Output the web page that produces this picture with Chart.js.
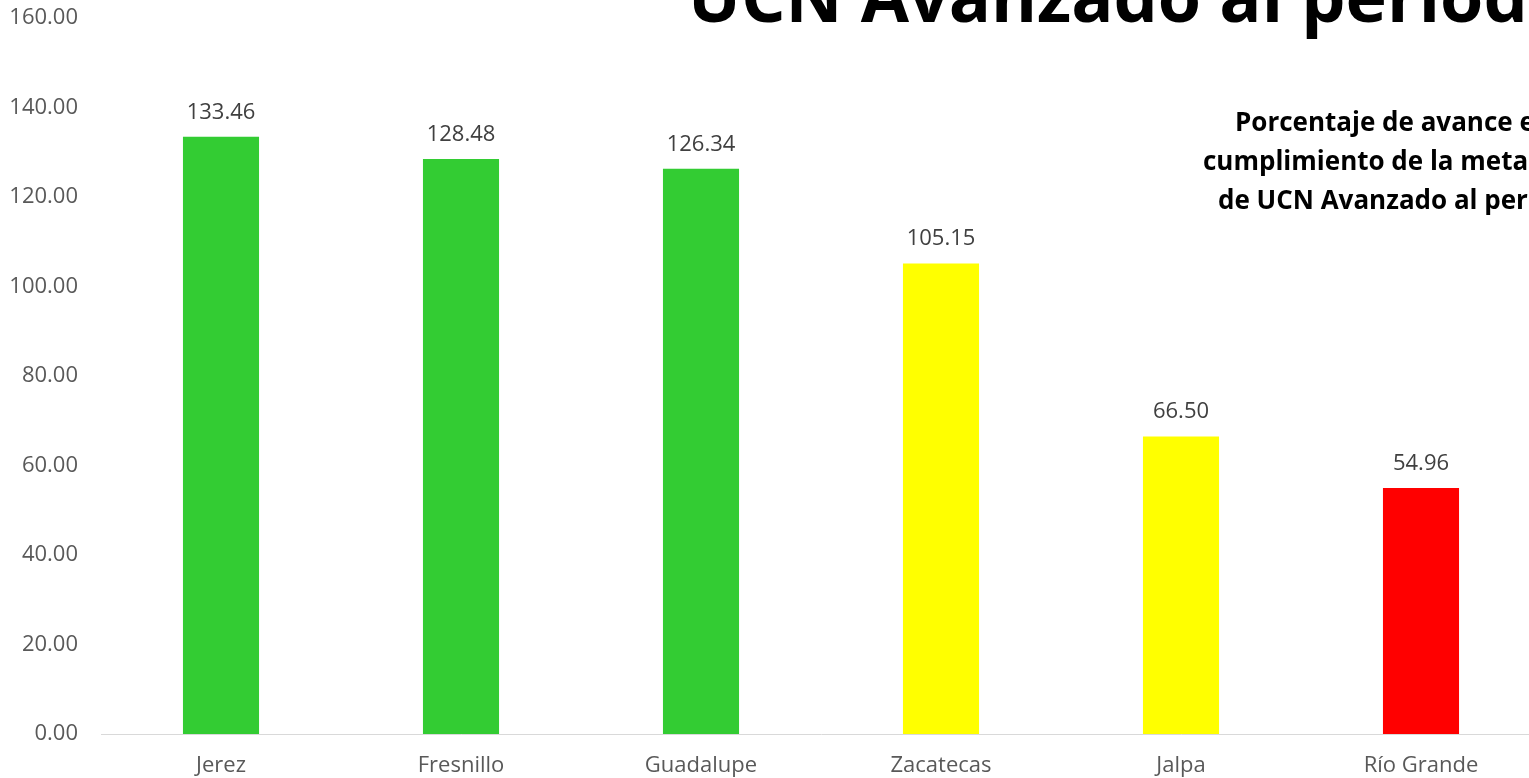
<!DOCTYPE html>
<html>
<head>
<meta charset="utf-8">
<script src="https://cdn.jsdelivr.net/npm/chart.js@4"></script>
<style>
  html, body { margin: 0; padding: 0; background: #fff; overflow: hidden; }
  #wrap { width: 1529px; height: 778px; overflow: hidden; }
  canvas { display: block; }
</style>
</head>
<body>
<div id="wrap"><canvas id="chart" width="1541" height="778"></canvas></div>
<script>
let categories = ["Jerez", "Fresnillo", "Guadalupe", "Zacatecas", "Jalpa", "Río Grande"];
let values = [133.46, 128.48, 126.34, 105.15, 66.50, 54.96];
let barColors = ["#33CC33", "#33CC33", "#33CC33", "#FFFF00", "#FFFF00", "#FF0000"];
let yTicks = [0, 20, 40, 60, 80, 100, 120, 140, 160];

let titleText = "UCN Avanzado al periodo";
let sideText = ["Porcentaje de avance en el", "cumplimiento de la meta anual", "de UCN Avanzado al periodo"];

let font = "'Open Sans', 'Noto Sans', sans-serif";

let labelsPlugin = {
    id: "extras",
    afterDatasetsDraw(chart) {
        let ctx = chart.ctx;
        let meta = chart.getDatasetMeta(0);
        ctx.save();
        ctx.fillStyle = "#404040";
        ctx.font = "22px " + font;
        ctx.textAlign = "center";
        ctx.textBaseline = "alphabetic";
        meta.data.forEach((bar, i) => {
            ctx.fillText(values[i].toFixed(2), bar.x, bar.y - 18);
        });

        // big title, cut at the top of the picture
        ctx.fillStyle = "#000";
        ctx.font = "bold 100px " + font;
        let w = ctx.measureText("UCN Avanzado al period").width;
        let size = 100 * 840 / w;
        ctx.font = "bold " + size + "px " + font;
        ctx.textAlign = "left";
        ctx.fillText(titleText, 688, 22);

        // side caption
        ctx.font = "bold 26px " + font;
        let starts = [1235, 1203, 1218];
        let bases = [131, 170, 209];
        sideText.forEach((t, i) => ctx.fillText(t, starts[i], bases[i]));
        ctx.restore();
    }
};

new Chart(document.getElementById("chart"), {
    type: "bar",
    data: {
        labels: categories,
        datasets: [{
            data: values,
            backgroundColor: barColors,
            borderWidth: 0,
            barPercentage: 1,
            categoryPercentage: 0.317
        }]
    },
    options: {
        responsive: false,
        animation: false,
        events: [],
        layout: { autoPadding: false, padding: { top: 18, right: 0, left: 0, bottom: 0 } },
        plugins: {
            legend: { display: false },
            tooltip: { enabled: false }
        },
        scales: {
            x: {
                grid: { display: false, drawTicks: false },
                border: { display: true, color: "#d9d9d9", width: 1 },
                ticks: { color: "#595959", font: { family: font, size: 22 }, padding: 19, maxRotation: 0 },
                afterFit(s) { s.height = 44; s.paddingLeft = 0; s.paddingRight = 0; }
            },
            y: {
                min: 0,
                max: 160,
                grid: { display: false, drawTicks: false },
                border: { display: false },
                afterBuildTicks(s) { s.ticks = yTicks.map(v => ({ value: v })); },
                ticks: {
                    color: "#595959",
                    font: { family: font, size: 22 },
                    padding: 23,
                    callback: v => v.toFixed(2)
                },
                afterFit(s) { s.width = 101; s.paddingTop = 0; s.paddingBottom = 0; }
            }
        }
    },
    plugins: [labelsPlugin]
});
</script>
</body>
</html>
